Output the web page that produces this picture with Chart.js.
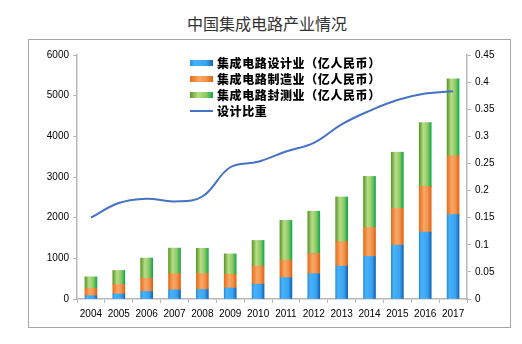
<!DOCTYPE html>
<html>
<head>
<meta charset="utf-8">
<title>中国集成电路产业情况</title>
<script src="https://cdn.jsdelivr.net/npm/chart.js@4.4.1/dist/chart.umd.min.js"></script>
<style>
  body { margin: 0; background: #fff; width: 522px; height: 344px; position: relative; overflow: hidden; font-family: 'Noto Sans CJK SC', sans-serif; }
  #title { position: absolute; left: 187px; top: 11px; font-size: 16px; line-height: 24px; color: #333; white-space: nowrap; }
  #frame { position: absolute; left: 28px; top: 39px; width: 481px; height: 287px; border: 1px solid #a6a6a6; }
  #chart { display: block; }
  #legend { position: absolute; left: 161px; top: 15px; font-size: 12px; font-weight: 900; letter-spacing: 0.6px; color: #000; }
  .row { height: 16px; line-height: 16px; display: flex; align-items: center; white-space: nowrap; }
  .sw { width: 23px; height: 6px; margin-right: 4px; }
  .ln { width: 23px; height: 2px; margin-right: 4px; background: #4472c4; }
</style>
</head>
<body>
<div id="title">中国集成电路产业情况</div>
<div id="frame">
  <canvas id="chart" width="481" height="287"></canvas>
  <div id="legend"></div>
</div>
<script>
// 2004-2017 产业规模（亿人民币）与设计业占比
const years = ['2004', '2005', '2006', '2007', '2008', '2009', '2010', '2011', '2012', '2013', '2014', '2015', '2016', '2017'];
const designValues = [81.8, 124.3, 186.2, 225.7, 235.2, 269.9, 363.9, 526.4, 621.7, 808.8, 1047.4, 1325.0, 1644.3, 2073.5];
const manufacturingValues = [180.4, 232.9, 323.5, 397.9, 392.9, 341.1, 447.1, 431.6, 501.1, 600.9, 712.1, 900.8, 1126.9, 1448.1];
const packagingValues = [282.6, 344.9, 496.6, 627.7, 618.9, 498.2, 629.2, 975.7, 1035.7, 1098.9, 1255.9, 1384.0, 1564.3, 1889.7];
const designRatio = [0.150, 0.177, 0.185, 0.180, 0.189, 0.243, 0.253, 0.272, 0.288, 0.322, 0.347, 0.367, 0.379, 0.383];

const seriesNames = ['集成电路设计业（亿人民币）', '集成电路制造业（亿人民币）', '集成电路封测业（亿人民币）', '设计比重'];

// Horizontal colour stops for each bar series
const barStops = {
  design: [[0, '#2c8ddf'], [0.2, '#48b2f8'], [0.7, '#3aa3f1'], [1, '#1565b6']],
  manufacturing: [[0, '#e86f1c'], [0.4, '#f7a866'], [0.7, '#f29450'], [1, '#df6512']],
  packaging: [[0, '#5a9827'], [0.35, '#b9dd8a'], [0.7, '#8cc862'], [1, '#12a94f']]
};

const BAR_W = 12;

function barFill(stops) {
  return function(context) {
    const chart = context.chart;
    const xScale = chart.scales.x;
    if (!chart.chartArea || !xScale || context.dataIndex === undefined) return stops[1][1];
    const cx = xScale.getPixelForValue(context.dataIndex);
    const g = chart.ctx.createLinearGradient(cx - BAR_W / 2, 0, cx + BAR_W / 2, 0);
    stops.forEach(s => g.addColorStop(s[0], s[1]));
    return g;
  };
}

function cssGradient(stops) {
  return 'linear-gradient(to right,' + stops.map(s => s[1] + ' ' + (s[0] * 100) + '%').join(',') + ')';
}

// Legend drawn as HTML inside the plot frame
const legendEl = document.getElementById('legend');
[barStops.design, barStops.manufacturing, barStops.packaging].forEach((stops, i) => {
  legendEl.insertAdjacentHTML('beforeend',
    '<div class="row"><span class="sw" style="background:' + cssGradient(stops) + '"></span>' + seriesNames[i] + '</div>');
});
legendEl.insertAdjacentHTML('beforeend', '<div class="row"><span class="ln"></span>' + seriesNames[3] + '</div>');

const axisGray = '#b8b8b8';
const tickFont = { family: "'Liberation Sans', Arial, sans-serif", size: 10 };

const bar = (label, data, stops) => ({
  type: 'bar',
  label: label,
  data: data,
  yAxisID: 'y',
  backgroundColor: barFill(stops),
  borderWidth: 0,
  barThickness: BAR_W,
  order: 1
});

new Chart(document.getElementById('chart'), {
  data: {
    labels: years,
    datasets: [
      {
        type: 'line',
        label: seriesNames[3],
        data: designRatio,
        yAxisID: 'y1',
        borderColor: '#4472c4',
        borderWidth: 2,
        pointRadius: 0,
        tension: 0.4,
        fill: false,
        order: 0
      },
      bar(seriesNames[0], designValues, barStops.design),
      bar(seriesNames[1], manufacturingValues, barStops.manufacturing),
      bar(seriesNames[2], packagingValues, barStops.packaging)
    ]
  },
  options: {
    responsive: false,
    devicePixelRatio: 1,
    animation: false,
    layout: { padding: { top: 15, left: 0, right: 0, bottom: 0 } },
    plugins: {
      legend: { display: false },
      tooltip: { enabled: false }
    },
    scales: {
      x: {
        stacked: true,
        grid: { drawOnChartArea: false, drawTicks: true, tickLength: 4, color: axisGray, offset: true },
        border: { display: true, color: axisGray, width: 1.5 },
        ticks: { color: '#000', font: tickFont, padding: 5, maxRotation: 0, autoSkip: false },
        afterFit: scale => { scale.height = 28; }
      },
      y: {
        stacked: true,
        position: 'left',
        min: 0,
        max: 6000,
        ticks: { stepSize: 1000, color: '#000', font: tickFont, padding: 4, callback: v => String(v) },
        grid: { drawOnChartArea: false, drawTicks: true, tickLength: 4, color: axisGray },
        border: { display: true, color: axisGray, width: 1.5 },
        afterFit: scale => { scale.width = 48; }
      },
      y1: {
        stacked: false,
        position: 'right',
        min: 0,
        max: 0.45,
        ticks: { stepSize: 0.05, color: '#000', font: tickFont, padding: 4, callback: v => String(Math.round(v * 100) / 100) },
        grid: { drawOnChartArea: false, drawTicks: true, tickLength: 4, color: axisGray },
        border: { display: true, color: axisGray, width: 1.5 },
        afterFit: scale => { scale.width = 43; }
      }
    }
  }
});
</script>
</body>
</html>
